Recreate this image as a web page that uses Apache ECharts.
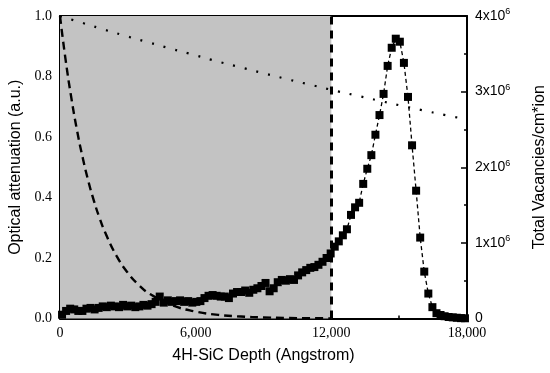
<!DOCTYPE html>
<html><head><meta charset="utf-8">
<script src="https://cdn.jsdelivr.net/npm/echarts@6/dist/echarts.min.js"></script>
<style>html,body{margin:0;padding:0;background:#fff}#c{width:550px;height:373px}</style>
</head><body><div id="c"></div>
<script>
// Depth (Angstrom) bin centres for the TRIM vacancy profile
const vacDepth = [90,270,450,630,810,990,1170,1350,1530,1710,1890,2070,2250,2430,2610,2790,2970,3150,3330,3510,3690,3870,4050,4230,4410,4590,4770,4950,5130,5310,5490,5670,5850,6030,6210,6390,6570,6750,6930,7110,7290,7470,7650,7830,8010,8190,8370,8550,8730,8910,9090,9270,9450,9630,9810,9990,10170,10350,10530,10710,10890,11070,11250,11430,11610,11790,11970,12150,12330,12510,12690,12870,13050,13230,13410,13590,13770,13950,14130,14310,14490,14670,14850,15030,15210,15390,15570,15750,15930,16110,16290,16470,16650,16830,17010,17190,17370,17550,17730,17910];
// Total vacancies (x10^6 /cm*ion)
const vacValue = [0.05,0.10,0.13,0.12,0.10,0.10,0.13,0.14,0.12,0.14,0.16,0.15,0.17,0.16,0.15,0.18,0.16,0.17,0.15,0.16,0.18,0.17,0.19,0.22,0.29,0.21,0.24,0.22,0.23,0.24,0.22,0.23,0.21,0.22,0.23,0.27,0.30,0.31,0.30,0.29,0.29,0.27,0.33,0.35,0.35,0.37,0.34,0.38,0.40,0.43,0.47,0.36,0.40,0.48,0.51,0.50,0.52,0.51,0.57,0.61,0.64,0.67,0.68,0.71,0.75,0.80,0.86,0.95,1.02,1.10,1.18,1.37,1.47,1.53,1.78,1.98,2.16,2.43,2.69,2.97,3.34,3.58,3.70,3.66,3.38,2.93,2.29,1.69,1.07,0.62,0.33,0.15,0.07,0.046,0.03,0.02,0.015,0.01,0.005,0.003];
// Optical attenuation, lambda = 310 nm
const d310 = [0,1000,2000,3000,4000,5000,6000,7000,8000,9000,10000,11000,12000,13000,14000,15000,16000,17000,18000];
const a310 = [1.0,0.977,0.954,0.932,0.911,0.890,0.870,0.849,0.830,0.811,0.792,0.774,0.756,0.739,0.722,0.705,0.689,0.673,0.658];
// Optical attenuation, lambda = 250 nm
const d250 = [0,250,500,750,1000,1250,1500,1750,2000,2500,3000,3500,4000,5000,6000,7000,8000,9000,10000,11000,12000];
const a250 = [1.0,0.854,0.730,0.623,0.533,0.455,0.389,0.332,0.284,0.207,0.151,0.110,0.080,0.043,0.023,0.012,0.0065,0.0035,0.0018,0.001,0.0005];
const shadeEnd = 12000;

const chart = echarts.init(document.getElementById('c'));
const serif = '"Liberation Serif","Times New Roman",serif';
const sans = '"Liberation Sans",Arial,sans-serif';
const zip = (a,b,s=1)=>a.map((x,i)=>[x,b[i]*s]);
chart.setOption({
  animation:false,
  grid:{left:60,right:83,top:16,bottom:54.5,containLabel:false,outerBoundsMode:'none'},
  xAxis:[{
    type:'value',min:0,max:18000,interval:6000,
    axisLine:{onZero:false,lineStyle:{color:'#000',width:2}},
    axisTick:{inside:true,length:6,lineStyle:{color:'#000',width:1.5}},
    minorTick:{show:true,splitNumber:2,length:3,lineStyle:{color:'#000',width:1.5}},
    splitLine:{show:false},
    axisLabel:{fontFamily:serif,fontSize:14,color:'#000',margin:8,
      formatter:v=>v.toLocaleString('en-US')},
    name:'4H-SiC Depth (Angstrom)',nameLocation:'middle',nameGap:29,
    nameTextStyle:{fontFamily:sans,fontSize:16,color:'#000'}
  },{
    type:'value',min:0,max:18000,position:'top',
    axisLine:{onZero:false,lineStyle:{color:'#000',width:2}},
    axisTick:{show:false},axisLabel:{show:false},splitLine:{show:false}
  }],
  yAxis:[{
    type:'value',min:0,max:1,interval:0.2,
    axisLine:{show:true,onZero:false,lineStyle:{color:'#000',width:2}},
    axisTick:{inside:true,length:6,lineStyle:{color:'#000',width:1.5}},
    minorTick:{show:true,splitNumber:2,length:3,lineStyle:{color:'#000',width:1.5}},
    splitLine:{show:false},
    axisLabel:{fontFamily:serif,fontSize:14,color:'#000',margin:8,formatter:v=>v.toFixed(1)},
    name:'Optical attenuation (a.u.)',nameLocation:'middle',nameGap:34,
    nameTextStyle:{fontFamily:sans,fontSize:16,color:'#000'}
  },{
    type:'value',min:0,max:4e6,interval:1e6,position:'right',
    axisLine:{show:true,onZero:false,lineStyle:{color:'#000',width:2}},
    axisTick:{inside:true,length:6,lineStyle:{color:'#000',width:1.5}},
    minorTick:{show:true,splitNumber:2,length:3,lineStyle:{color:'#000',width:1.5}},
    splitLine:{show:false},
    axisLabel:{fontFamily:sans,fontSize:14,color:'#000',margin:8,
      formatter:v=>v===0?'0':(v/1e6)+'x10{s|6}',
      rich:{s:{fontSize:9,fontFamily:sans,color:'#000',verticalAlign:'top',padding:[0,0,8,0]}}},
    name:'Total Vacancies/cm*ion',nameLocation:'middle',nameGap:65,nameRotate:90,
    nameTextStyle:{fontFamily:sans,fontSize:16,color:'#000'}
  }],
  series:[
    {type:'line',data:[],z:1,silent:true,
     markArea:{silent:true,itemStyle:{color:'#c3c3c3'},data:[[{xAxis:0,yAxis:0},{xAxis:shadeEnd,yAxis:1}]]},
     markLine:{silent:true,symbol:['none','none'],label:{show:false},
       lineStyle:{color:'#000',width:3,type:[8,6]},data:[{xAxis:shadeEnd}]}},
    {type:'line',data:zip(d310,a310),smooth:true,showSymbol:false,z:3,
     lineStyle:{color:'#000',width:2.2,type:[2,10]}},
    {type:'line',data:zip(d250,a250),smooth:true,showSymbol:false,z:3,
     lineStyle:{color:'#000',width:2.4,type:[8,5]}},
    {type:'line',yAxisIndex:1,data:zip(vacDepth,vacValue,1e6),symbol:'rect',symbolSize:8,z:4,
     itemStyle:{color:'#000'},lineStyle:{color:'#000',width:1.3,type:[4,3]}}
  ],
  graphic:[
    {type:'text',left:257,top:22,style:{text:'λ=310 nm',font:'16px '+sans,fill:'#000'}},
    {type:'line',shape:{x1:285,y1:40,x2:218,y2:52},style:{stroke:'#000',lineWidth:1.3}},
    {type:'polygon',shape:{points:[[212,53],[221,48],[222,54]]},style:{fill:'#000'}},
    {type:'text',left:154,top:204,style:{text:'λ=250 nm',font:'16px '+sans,fill:'#000'}},
    {type:'line',shape:{x1:174,y1:224,x2:123,y2:235.5},style:{stroke:'#000',lineWidth:1.3}},
    {type:'polygon',shape:{points:[[117,237],[125,231.5],[126,238]]},style:{fill:'#000'}}
  ]
});
</script></body></html>
